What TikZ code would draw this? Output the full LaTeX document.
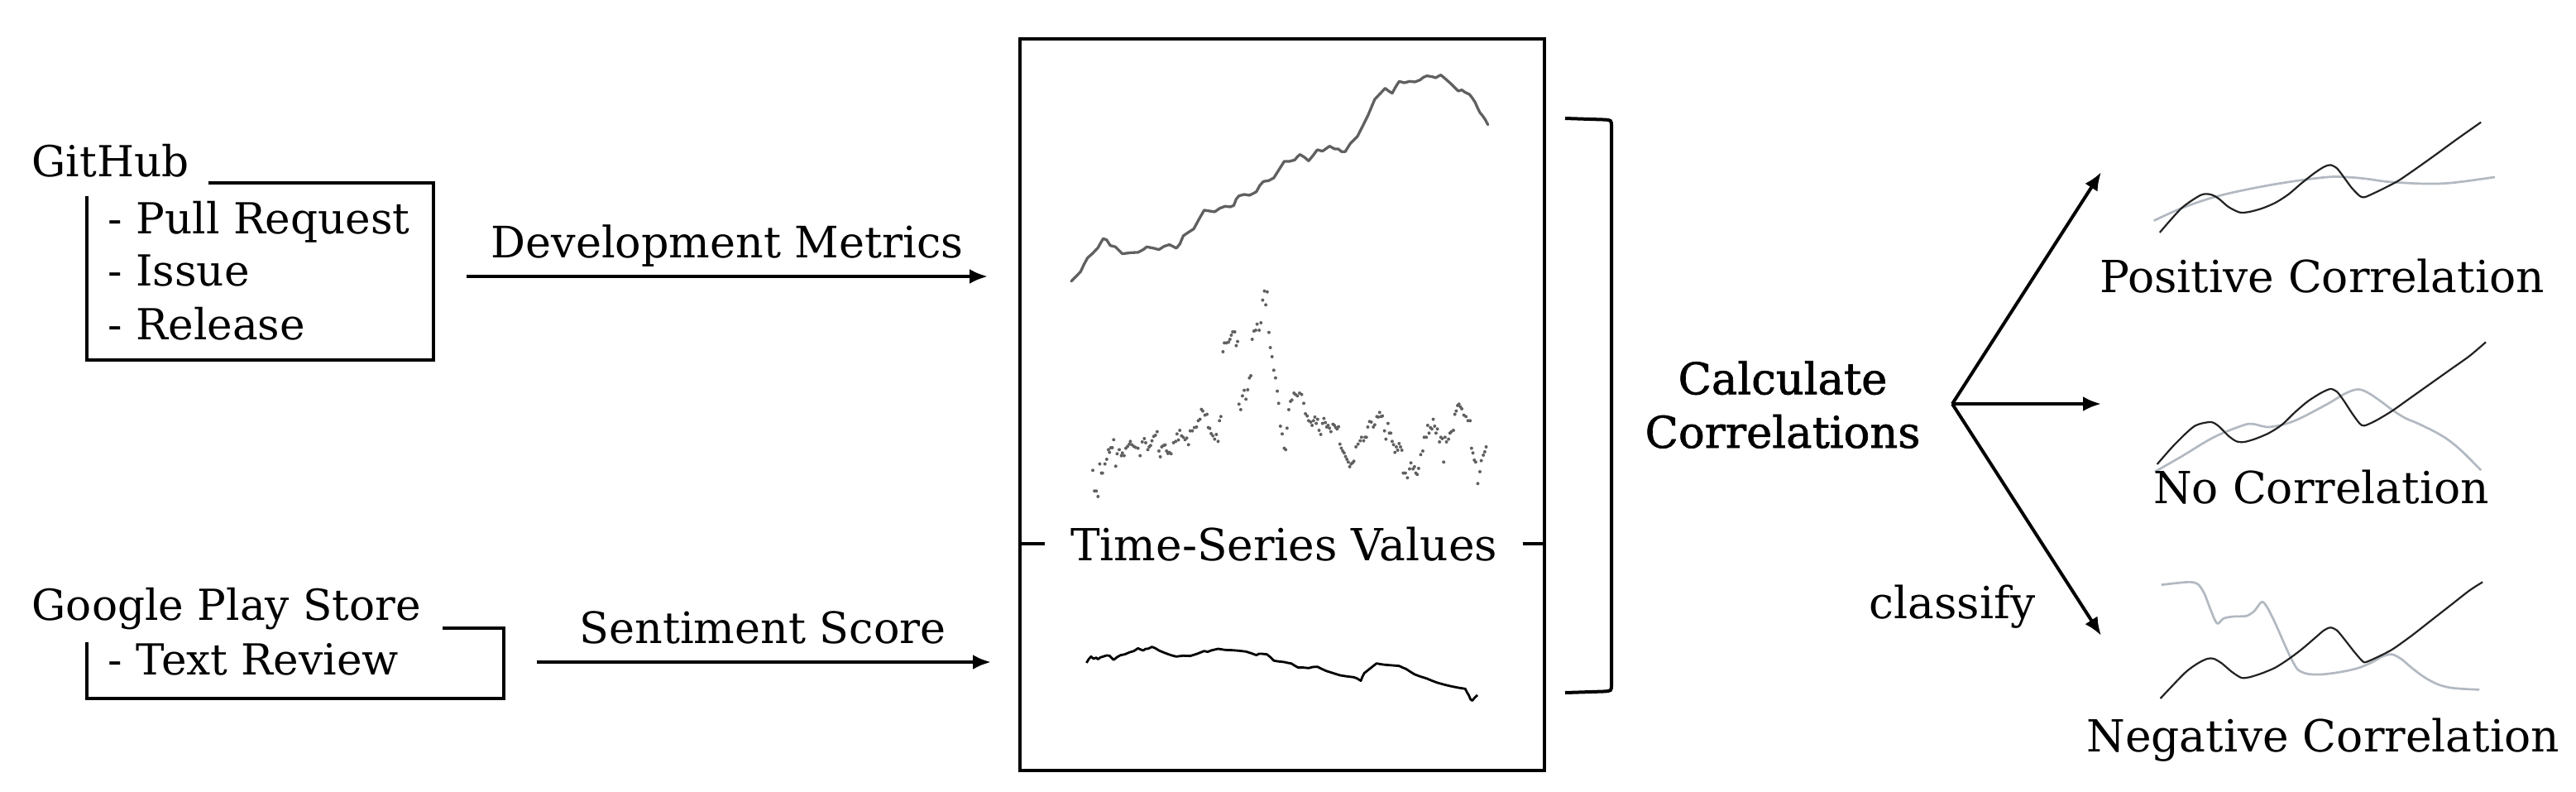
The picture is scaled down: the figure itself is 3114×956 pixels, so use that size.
\documentclass[tikz,border=0pt]{standalone}
\usepackage{fontspec}
\setmainfont{DejaVu Serif}
\newfontfamily\heavyfont[FakeBold=1.3]{DejaVu Serif}
\usetikzlibrary{arrows.meta,calc}
\definecolor{tsgray}{RGB}{96,96,96}
\definecolor{cgray}{RGB}{178,185,193}
\definecolor{cblack}{RGB}{34,34,34}
\begin{document}
\begin{tikzpicture}[x=0.1mm,y=-0.1mm,
  lbl/.style={inner sep=0pt, font=\fontsize{15.2pt}{18.3pt}\selectfont},
  srclbl/.style={inner sep=0pt, font=\fontsize{14.7pt}{18.3pt}\selectfont},
  arrlbl/.style={inner sep=0pt, font=\fontsize{14.9pt}{18.3pt}\selectfont},
  frame/.style={line width=0.4mm, line cap=butt, line join=miter},
  flow/.style={line width=0.4mm, -{Latex[length=2.2mm,width=1.8mm]}},
  tsline/.style={tsgray, line width=0.33mm, line join=round, line cap=round},
  tsdot/.style={fill=tsgray},
  sentline/.style={black, line width=0.28mm, line join=round},
  cdark/.style={cblack, line width=0.22mm, line join=round},
  clight/.style={cgray, line width=0.27mm, line join=round}]
\useasboundingbox (0,0) rectangle (3114,956);

% ---------- GitHub block ----------
\node[srclbl, anchor=base west] (gh) at (38,213) {GitHub};
\node[srclbl, anchor=base west] (pr) at (130,282) {- Pull Request};
\node[srclbl, anchor=base west] (is) at (130,345) {- Issue};
\node[srclbl, anchor=base west] (rl) at (130,410) {- Release};
\coordinate (ghA) at (252,221);
\coordinate (ghB) at (524,221);
\coordinate (ghC) at (524,435);
\coordinate (ghD) at (105,435);
\coordinate (ghE) at (105,237);
\draw[frame] (ghA) -- (ghB) -- (ghC) -- (ghD) -- (ghE);

% ---------- Google Play block ----------
\node[srclbl, anchor=base west] (gp) at (38,749) {Google Play Store};
\node[srclbl, anchor=base west] (tr) at (130,815) {- Text Review};
\coordinate (gpA) at (535,759);
\coordinate (gpB) at (609,759);
\coordinate (gpC) at (609,844);
\coordinate (gpD) at (105,844);
\coordinate (gpE) at (105,776);
\draw[frame] (gpA) -- (gpB) -- (gpC) -- (gpD) -- (gpE);

% ---------- arrows into the box ----------
\coordinate (dmS) at (564,334);
\coordinate (dmE) at (1194,334);
\draw[flow] (dmS) -- (dmE);
\node[arrlbl, anchor=base] (dml) at (879,311) {Development Metrics};

\coordinate (ssS) at (649,800);
\coordinate (ssE) at (1198,800);
\draw[flow] (ssS) -- (ssE);
\node[arrlbl, anchor=base] (ssl) at (922,777) {Sentiment Score};

% ---------- time-series box ----------
\node[frame, draw, minimum width=63.4mm, minimum height=88.4mm, inner sep=0pt] (tsbox) at (1550,489) {};
\node[lbl, anchor=base, inner xsep=3.0mm] (tsv) at (1552,677) {Time-Series Values};
\draw[frame] (tsbox.west |- tsv.west) -- (tsv.west);
\draw[frame] (tsv.east) -- (tsbox.east |- tsv.east);

% top series (development metric)
\begin{scope}[shift={(1220,30)}, x=0.04209mm, y=-0.03333mm]
\draw[tsline] plot coordinates {(178,930) (192,912) (205,895) (215,868) (225,845) (240,828) (255,808) (262,792) (270,775) (280,780) (290,800) (305,805) (325,830) (350,826) (370,825) (385,815) (395,805) (415,810) (430,815) (445,803) (460,797) (470,803) (480,810) (490,795) (500,765) (515,752) (530,740) (545,705) (560,672) (575,675) (590,678) (605,665) (620,658) (635,660) (645,655) (652,632) (660,620) (675,615) (690,618) (700,612) (710,605) (720,582) (730,568) (745,565) (760,555) (775,525) (790,495) (805,495) (820,490) (828,478) (835,470) (848,480) (860,493) (872,475) (885,453) (900,458) (920,440) (935,450) (945,450) (955,460) (965,460) (980,430) (1000,405) (1015,368) (1030,330) (1040,300) (1050,270) (1065,250) (1080,230) (1090,240) (1100,248) (1110,225) (1120,205) (1135,210) (1150,205) (1165,207) (1180,200) (1190,190) (1200,185) (1215,188) (1225,192) (1233,186) (1240,182) (1255,198) (1270,215) (1280,228) (1290,240) (1300,236) (1310,245) (1322,252) (1330,265) (1338,280) (1345,300) (1352,318) (1360,330) (1368,345) (1375,362)};
\end{scope}

% middle scatter (dotted series)
\begin{scope}[shift={(1220,340)}, x=0.04209mm, y=-0.03333mm]
\foreach \a/\b in {240/685,245/760,250/760,255/780,260/662,265/695,268/695,275/662,280/645,285/610,288/620,292/603,296/603,300/574,306/670,310/625,316/610,322/632,325/622,330/632,335/605,340/598,345/590,348/580,352/592,358/598,363/602,370/605,376/632,382/582,388/570,392/585,398/610,402/600,406/595,410/578,415/562,420/558,425/545,430/615,434/636,438/600,443/595,448/593,452/615,456/624,460/620,465/625,472/585,478/580,482/553,486/575,490/540,495/560,500/565,505/574,510/568,515/592,520/542,526/542,532/530,538/528,543/505,548/500,552/464,556/470,562/485,568/482,572/530,576/533,580/552,585/560,590/572,595/555,600/580,604/505,608/490,614/255,618/223,624/223,630/220,634/210,638/195,642/183,648/183,652/233,656/218,660/445,665/465,670/415,675/395,680/427,685/393,690/350,694/342,698/210,703/180,708/177,712/155,718/177,723/150,728/68,733/35,737/85,741/38,746/185,750/240,755/273,760/322,765/350,770/398,774/442,779/525,784/553,790/605,794/610,798/532,803/465,808/435,812/430,818/405,822/410,828/415,834/405,840/410,846/442,851/480,856/488,860/505,866/510,870/522,874/505,878/492,882/515,886/500,890/540,895/555,900/515,904/497,908/512,912/528,916/522,920/532,924/545,930/518,934/522,938/530,942/535,946/527,950/590,954/605,958/615,962/622,966/635,970/645,974/655,978/672,982/662,986/658,990/652,996/600,1002/590,1008/578,1012/565,1018/578,1022/565,1026/565,1030/528,1035/508,1040/510,1046/528,1050/520,1056/490,1060/492,1064/475,1068/490,1072/488,1078/542,1082/572,1088/515,1092/550,1096/550,1100/580,1104/592,1108/620,1112/600,1116/612,1120/588,1124/600,1128/612,1132/695,1138/695,1144/712,1150/680,1154/658,1160/680,1164/672,1168/695,1172/700,1176/678,1182/628,1188/615,1192/565,1198/565,1202/522,1206/550,1210/530,1214/535,1218/500,1222/525,1226/550,1230/535,1236/582,1240/565,1244/570,1248/655,1252/565,1256/582,1262/572,1266/550,1270/545,1276/540,1280/482,1284/470,1288/450,1292/445,1296/455,1300/462,1306/485,1312/490,1318/505,1324/505,1328/605,1332/622,1336/648,1340/655,1346/733,1352/690,1356/650,1362/630,1366/618,1370/600}
  \fill[tsdot] (\a,\b) circle[radius=0.2mm];
\end{scope}

% bottom series (sentiment)
\begin{scope}[shift={(1220,600)}, x=0.04209mm, y=-0.03333mm]
\draw[sentline] plot coordinates {(222,603) (228,590) (235,580) (242,588) (250,584) (255,590) (262,583) (270,580) (280,576) (288,577) (294,585) (300,592) (310,582) (320,575) (332,572) (345,565) (358,560) (370,550) (378,555) (385,558) (392,552) (398,552) (410,545) (420,550) (430,558) (445,566) (460,573) (470,577) (480,580) (500,577) (520,578) (540,570) (560,560) (570,563) (580,558) (600,552) (620,556) (640,557) (660,559) (680,562) (695,568) (710,575) (718,570) (725,570) (740,572) (750,582) (760,595) (775,598) (790,600) (800,603) (810,605) (820,613) (830,620) (845,620) (860,622) (872,618) (885,617) (898,625) (910,632) (930,640) (950,648) (970,652) (990,655) (1000,660) (1010,668) (1015,652) (1020,640) (1030,630) (1040,620) (1048,612) (1055,605) (1068,608) (1080,610) (1100,612) (1120,614) (1130,620) (1140,625) (1152,635) (1165,645) (1180,652) (1200,660) (1215,668) (1230,675) (1250,682) (1270,688) (1290,693) (1310,697) (1315,710) (1320,720) (1325,735) (1330,740) (1338,728) (1345,720)};
\end{scope}

% ---------- bracket ----------
\coordinate (brT) at (1892,143);
\coordinate (brB) at (1892,837);
\draw[frame] (brT) -- (1938,144.5) .. controls (1948,145) .. (1948,153) -- (1948,827) .. controls (1948,835) .. (1938,835.5) -- (brB);

% ---------- correlations ----------
\node[inner sep=0pt, align=center, font=\heavyfont\fontsize{15.0pt}{18.4pt}\selectfont] (cc) at (2155,489) {Calculate\\Correlations};

\coordinate (fan) at (2360,488);
\coordinate (tU) at (2540,208);
\coordinate (tM) at (2540,488);
\coordinate (tD) at (2540,768);
\draw[flow] (fan) -- (tU);
\draw[flow] (fan) -- (tM);
\draw[flow] (fan) -- (tD);
\node[lbl, anchor=base] (cls) at (2360,747) {classify};

% positive correlation
\begin{scope}[shift={(2500,120)}, x=0.03915mm, y=-0.03333mm]
\draw[clight] plot[smooth, tension=0.6] coordinates {(265,440) (350,395) (450,355) (560,325) (680,300) (800,282) (860,282) (920,288) (980,298) (1040,303) (1100,306) (1160,305) (1220,298) (1318,282)};
\draw[cdark] plot[smooth, tension=0.45] coordinates {(283,483) (350,395) (410,347) (440,345) (465,360) (495,390) (530,410) (560,408) (600,395) (640,375) (680,345) (720,305) (760,268) (790,245) (810,238) (830,250) (850,280) (875,320) (900,350) (915,355) (945,340) (980,320) (1020,295) (1070,255) (1130,205) (1200,145) (1275,83)};
\end{scope}
\node[lbl, anchor=base] (pos) at (2807,353) {Positive Correlation};

% no correlation
\begin{scope}[shift={(2500,380)}, x=0.03915mm, y=-0.03333mm]
\draw[clight] plot[smooth, tension=0.6] coordinates {(268,570) (350,515) (450,445) (540,402) (570,397) (600,405) (630,407) (700,385) (800,325) (850,290) (890,272) (920,280) (960,310) (1000,345) (1040,375) (1080,395) (1140,430) (1180,460) (1220,500) (1275,565)};
\draw[cdark] plot[smooth, tension=0.45] coordinates {(275,543) (330,470) (390,405) (440,390) (465,405) (495,440) (520,460) (545,462) (580,450) (620,430) (660,400) (700,355) (740,315) (780,285) (810,270) (830,280) (850,310) (875,355) (900,395) (915,403) (950,385) (1000,350) (1060,300) (1120,250) (1180,200) (1240,150) (1290,100)};
\end{scope}
\node[lbl, anchor=base] (noc) at (2806,608) {No Correlation};

% negative correlation
\begin{scope}[shift={(2500,640)}, x=0.03915mm, y=-0.03333mm]
\draw[clight] plot[smooth, tension=0.5] coordinates {(288,200) (370,190) (400,197) (420,230) (440,290) (460,340) (480,322) (510,315) (550,313) (575,295) (598,262) (615,282) (640,340) (670,420) (690,470) (710,508) (740,523) (780,525) (820,520) (860,512) (900,500) (940,480) (970,460) (1000,452) (1030,470) (1060,500) (1100,535) (1140,560) (1180,573) (1230,578) (1270,580)};
\draw[cdark] plot[smooth, tension=0.45] coordinates {(285,612) (360,520) (400,485) (430,468) (450,468) (475,485) (505,515) (535,537) (560,535) (600,520) (640,500) (680,470) (720,435) (760,395) (790,365) (810,355) (830,365) (855,400) (885,445) (910,478) (920,480) (950,465) (1000,435) (1060,385) (1120,330) (1180,275) (1240,220) (1280,190)};
\end{scope}
\node[lbl, anchor=base] (neg) at (2808,908) {Negative Correlation};

\end{tikzpicture}
\end{document}
